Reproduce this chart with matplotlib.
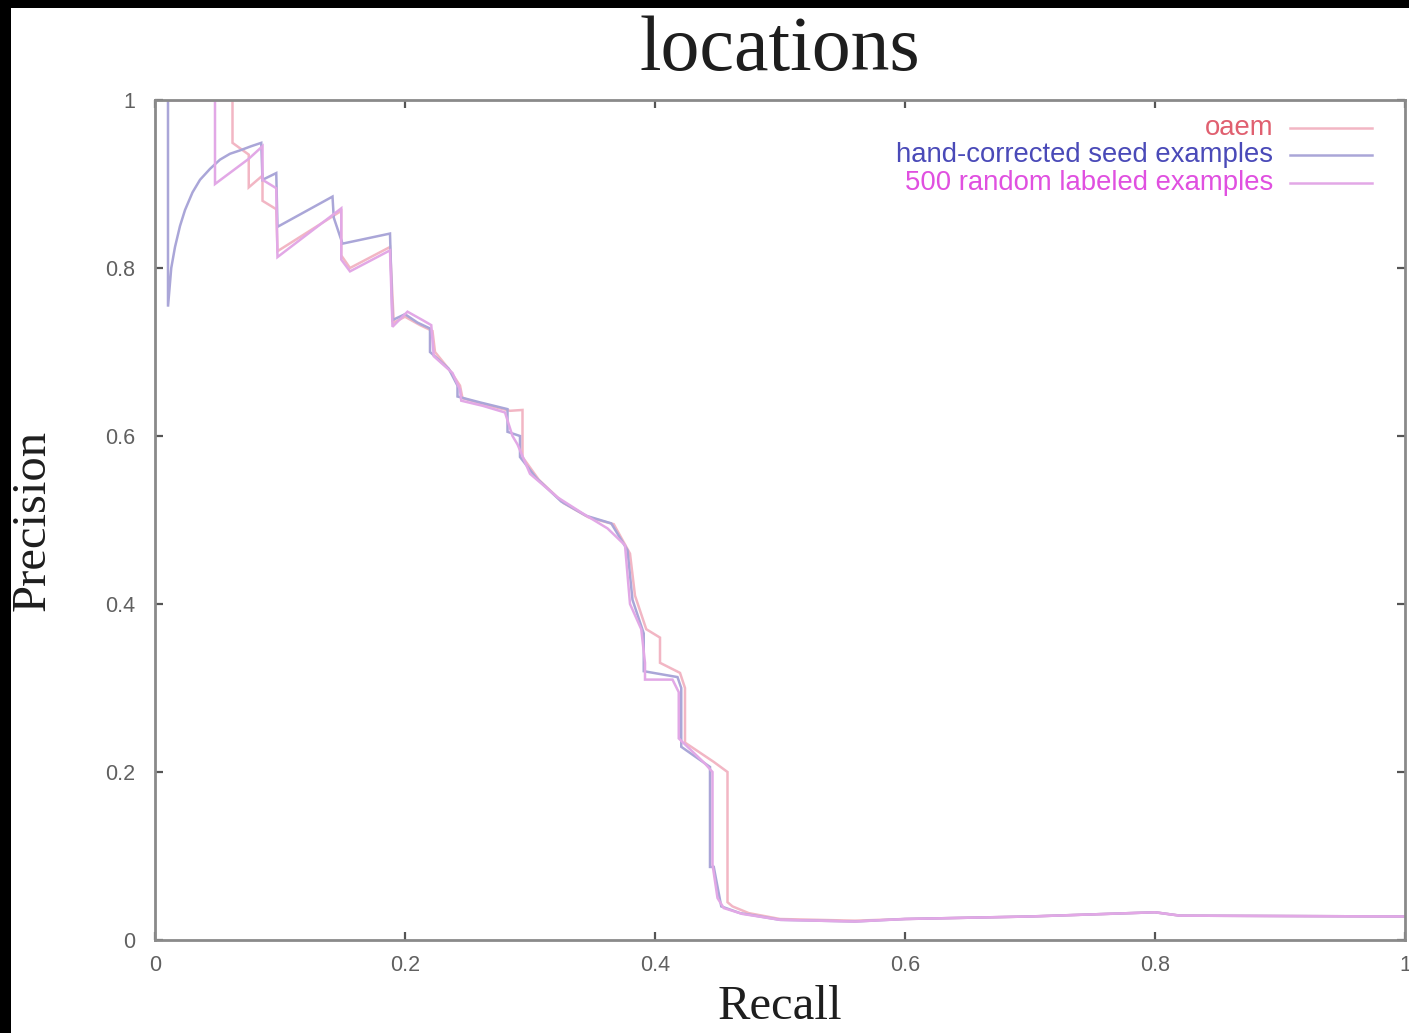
import matplotlib
matplotlib.use("Agg")
import matplotlib.pyplot as plt
from matplotlib.patches import Rectangle

# ---------------- data ----------------
series_labels = ["oaem", "hand-corrected seed examples", "500 random labeled examples"]

oaem_recall = [0.0104, 0.062, 0.062, 0.075, 0.075, 0.086, 0.086, 0.097, 0.098, 0.149, 0.149, 0.156,
               0.188, 0.191, 0.200, 0.212, 0.222, 0.224, 0.236, 0.244, 0.246, 0.262, 0.284, 0.294,
               0.294, 0.307, 0.327, 0.347, 0.367, 0.380, 0.384, 0.393, 0.404, 0.404, 0.420, 0.424,
               0.424, 0.447, 0.458, 0.458, 0.462, 0.475, 0.50, 0.56, 0.60, 0.70, 0.80, 0.82, 1.0]
oaem_precision = [1.0, 1.0, 0.949, 0.935, 0.896, 0.91, 0.88, 0.87, 0.82, 0.868, 0.815, 0.80,
                  0.825, 0.735, 0.742, 0.732, 0.725, 0.70, 0.678, 0.66, 0.645, 0.638, 0.630, 0.631,
                  0.575, 0.548, 0.520, 0.503, 0.495, 0.460, 0.41, 0.37, 0.36, 0.33, 0.318, 0.30,
                  0.235, 0.212, 0.20, 0.045, 0.04, 0.032, 0.025, 0.023, 0.025, 0.028, 0.033, 0.029, 0.028]

seed_recall = [0.0104, 0.0104, 0.013, 0.016, 0.020, 0.024, 0.030, 0.036, 0.044, 0.052, 0.060, 0.068,
               0.077, 0.085, 0.086, 0.097, 0.098, 0.142, 0.143, 0.150, 0.188, 0.190, 0.200, 0.210,
               0.220, 0.220, 0.235, 0.242, 0.242, 0.260, 0.282, 0.282, 0.292, 0.292, 0.305, 0.325,
               0.345, 0.365, 0.378, 0.382, 0.391, 0.391, 0.418, 0.421, 0.421, 0.444, 0.444, 0.447,
               0.453, 0.468, 0.50, 0.56, 0.60, 0.70, 0.80, 0.82, 1.0]
seed_precision = [1.0, 0.754, 0.80, 0.825, 0.850, 0.869, 0.890, 0.905, 0.918, 0.929, 0.936, 0.940,
                  0.945, 0.949, 0.905, 0.913, 0.849, 0.885, 0.86, 0.829, 0.841, 0.738, 0.745, 0.735,
                  0.728, 0.70, 0.68, 0.66, 0.647, 0.640, 0.632, 0.605, 0.60, 0.575, 0.55, 0.522,
                  0.505, 0.496, 0.464, 0.405, 0.365, 0.32, 0.313, 0.30, 0.23, 0.206, 0.087, 0.087,
                  0.04, 0.032, 0.024, 0.022, 0.025, 0.028, 0.033, 0.029, 0.028]

random_recall = [0.0104, 0.048, 0.048, 0.075, 0.086, 0.086, 0.097, 0.098, 0.149, 0.149, 0.156, 0.188,
                 0.190, 0.202, 0.214, 0.221, 0.223, 0.238, 0.244, 0.245, 0.262, 0.280, 0.286, 0.290,
                 0.300, 0.322, 0.342, 0.362, 0.376, 0.380, 0.389, 0.392, 0.392, 0.414, 0.419, 0.419,
                 0.440, 0.446, 0.446, 0.450, 0.455, 0.470, 0.50, 0.56, 0.60, 0.70, 0.80, 0.82, 1.0]
random_precision = [1.0, 1.0, 0.90, 0.93, 0.945, 0.905, 0.895, 0.813, 0.871, 0.81, 0.796, 0.821,
                    0.73, 0.748, 0.738, 0.732, 0.695, 0.675, 0.655, 0.642, 0.636, 0.628, 0.60, 0.59,
                    0.555, 0.527, 0.508, 0.49, 0.47, 0.40, 0.37, 0.33, 0.31, 0.31, 0.295, 0.24,
                    0.21, 0.20, 0.09, 0.05, 0.038, 0.031, 0.024, 0.022, 0.025, 0.028, 0.033, 0.029, 0.028]

x_ticks = [0, 0.2, 0.4, 0.6, 0.8, 1]
x_tick_labels = ["0", "0.2", "0.4", "0.6", "0.8", "1"]
y_ticks = [0, 0.2, 0.4, 0.6, 0.8, 1]
y_tick_labels = ["0", "0.2", "0.4", "0.6", "0.8", "1"]

line_colors = ["#f2b6c4", "#aaa6d8", "#e2a8e6"]
text_colors = ["#e06070", "#4a4ab8", "#e050e0"]

# ---------------- figure ----------------
W, H = 1409, 1033
fig = plt.figure(figsize=(W / 100, H / 100), dpi=100)
fig.patch.set_facecolor("white")

ax = fig.add_axes([155 / W, 1 - 940 / H, 1250 / W, 840 / H])
ax.set_xlim(0, 1)
ax.set_ylim(0, 1)

data = [(oaem_recall, oaem_precision), (seed_recall, seed_precision), (random_recall, random_precision)]
for (xs, ys), c in zip(data, line_colors):
    ax.plot(xs, ys, color=c, lw=1.8, solid_joinstyle="miter")

for s in ax.spines.values():
    s.set_color("#8a8a8a")
    s.set_linewidth(2.0)

ax.set_xticks(x_ticks)
ax.set_xticklabels(x_tick_labels)
ax.set_yticks(y_ticks)
ax.set_yticklabels(y_tick_labels)
ax.tick_params(direction="in", length=6, width=1.6, color="#555555",
               top=True, right=True, labelsize=15.5, labelcolor="#606060")
ax.tick_params(axis="x", pad=11)
ax.tick_params(axis="y", pad=14)
for lab in ax.get_xticklabels() + ax.get_yticklabels():
    lab.set_family("Liberation Sans")

# legend (manual, gnuplot style)
row_y = [0.9667, 0.9345, 0.9012]
for lab, tc, lc, yy in zip(series_labels, text_colors, line_colors, row_y):
    ax.text(0.8944, yy, lab, transform=ax.transAxes, ha="right", va="center",
            fontsize=19.8, color=tc, family="Liberation Sans")
    ax.plot([0.908, 0.9736], [yy, yy], transform=ax.transAxes, color=lc, lw=1.8)

fig.text(780 / W, 1 - 70 / H, "locations", ha="center", va="baseline",
         fontsize=56, family="Liberation Serif", color="#1e1e1e")
fig.text(780 / W, 1 - 1019 / H, "Recall", ha="center", va="baseline",
         fontsize=35, family="Liberation Serif", color="#1e1e1e")
fig.text(33 / W, 1 - 520 / H, "Precision", ha="center", va="center", rotation=90,
         fontsize=35, family="Liberation Serif", color="#1e1e1e")

# black frame strips of the screenshot
fig.patches.append(Rectangle((0, 0), 11 / W, 1, transform=fig.transFigure,
                             facecolor="black", edgecolor="none", zorder=10))
fig.patches.append(Rectangle((0, 1 - 8 / H), 1, 8 / H, transform=fig.transFigure,
                             facecolor="black", edgecolor="none", zorder=10))

fig.savefig("out.png", dpi=100)
